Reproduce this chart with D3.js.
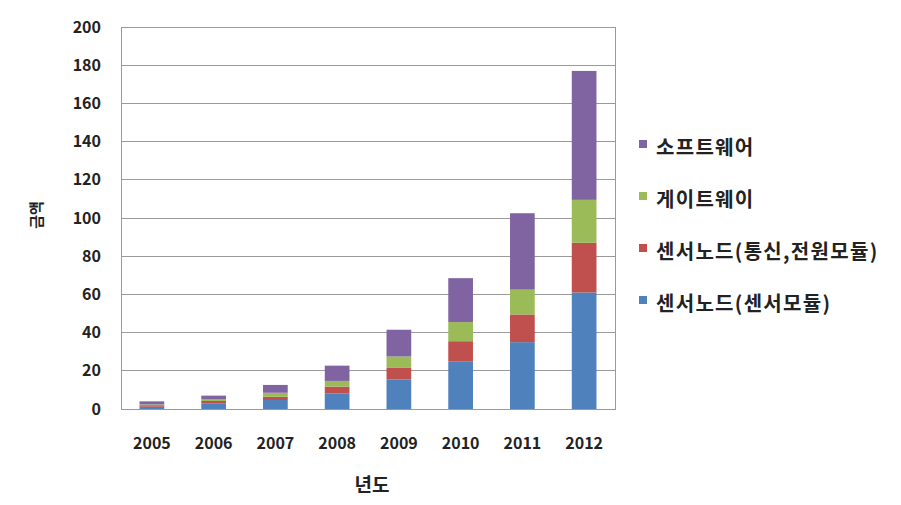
<!DOCTYPE html>
<html><head><meta charset="utf-8">
<script src="https://cdn.jsdelivr.net/npm/d3@7"></script>
<style>
body{margin:0;background:#fff;}
text{font-family:"Noto Sans CJK KR","Noto Sans",sans-serif;}
</style></head>
<body><svg id="c" width="901" height="505"></svg>
<script>
const years = ["2005","2006","2007","2008","2009","2010","2011","2012"];
const seriesNames = ["센서노드(센서모듈)","센서노드(통신,전원모듈)","게이트웨이","소프트웨어"];
const sensorModule = [1.2, 3, 4.7, 8.2, 15.5, 25, 35, 61];
const commPower = [0.8, 1.2, 1.7, 3.5, 6, 10.5, 14.5, 26];
const gateway = [0.4, 0.8, 2.1, 3, 6, 10, 13, 22.5];
const software = [1.6, 2, 4.1, 8, 14, 23, 40, 67.5];
const yTicks = [0,20,40,60,80,100,120,140,160,180,200];
const colors = ["#4F81BD","#C0504D","#9BBB59","#8064A2"];
const legendOrder = [3,2,1,0];

const svg = d3.select("#c");
const m = {l:121, r:615, t:27, b:409};
const x = d3.scaleBand().domain(years).range([m.l, m.r]).paddingInner(0.6).paddingOuter(0.3);
const y = d3.scaleLinear().domain([0,200]).range([m.b, m.t]);

const rows = years.map((yr,i)=>({year:yr, s0:sensorModule[i], s1:commPower[i], s2:gateway[i], s3:software[i]}));
const stack = d3.stack().keys(["s0","s1","s2","s3"])(rows);

// gridlines
svg.append("g").selectAll("line").data(yTicks).join("line")
  .attr("x1", m.l).attr("x2", m.r)
  .attr("y1", d=>y(d)).attr("y2", d=>y(d))
  .attr("stroke", "#9a9a9a").attr("stroke-width", 1).attr("shape-rendering","crispEdges");
// plot border
svg.append("rect").attr("x", m.l).attr("y", m.t).attr("width", m.r-m.l).attr("height", m.b-m.t)
  .attr("fill","none").attr("stroke","#9a9a9a").attr("shape-rendering","crispEdges");

// bars
svg.append("g").selectAll("g").data(stack).join("g")
  .attr("fill", (d,i)=>colors[i])
  .selectAll("rect").data(d=>d).join("rect")
  .attr("x", d=>x(d.data.year))
  .attr("width", x.bandwidth())
  .attr("y", d=>y(d[1]))
  .attr("height", d=>y(d[0])-y(d[1]));

// y axis
const ya = svg.append("g").attr("transform", `translate(${m.l},0)`)
  .call(d3.axisLeft(y).tickValues(yTicks).tickSize(0).tickPadding(20));
ya.select(".domain").remove();
ya.selectAll("text").attr("font-size", 16).attr("font-weight", "bold").attr("fill", "#222")
  .attr("font-family", "'Noto Sans CJK KR', sans-serif");

// x axis
const xa = svg.append("g").attr("transform", `translate(0,${m.b})`)
  .call(d3.axisBottom(x).tickSize(0).tickPadding(29));
xa.select(".domain").remove();
xa.selectAll("text").attr("font-size", 16).attr("font-weight", "bold").attr("fill", "#222")
  .attr("font-family", "'Noto Sans CJK KR', sans-serif");

// axis titles
svg.append("text").attr("x", 372).attr("y", 492).attr("text-anchor","middle")
  .attr("font-size", 19).attr("font-weight","bold").attr("fill","#222").text("년도");
svg.append("text").attr("transform", "translate(42,215) rotate(-90)").attr("text-anchor","middle")
  .attr("font-size", 15).attr("font-weight","bold").attr("fill","#222").text("금액");

// legend
const lg = svg.append("g").selectAll("g").data(legendOrder).join("g")
  .attr("transform", (d,i)=>`translate(639,${155 + i*52})`);
lg.append("rect").attr("x", 0).attr("y", -15).attr("width", 8).attr("height", 8).attr("fill", d=>colors[d]);
lg.append("text").attr("x", 17).attr("y", 0).attr("font-size", 20).attr("font-weight","bold")
  .attr("letter-spacing", 1.3).attr("fill","#222").text(d=>seriesNames[d]);
</script></body></html>
